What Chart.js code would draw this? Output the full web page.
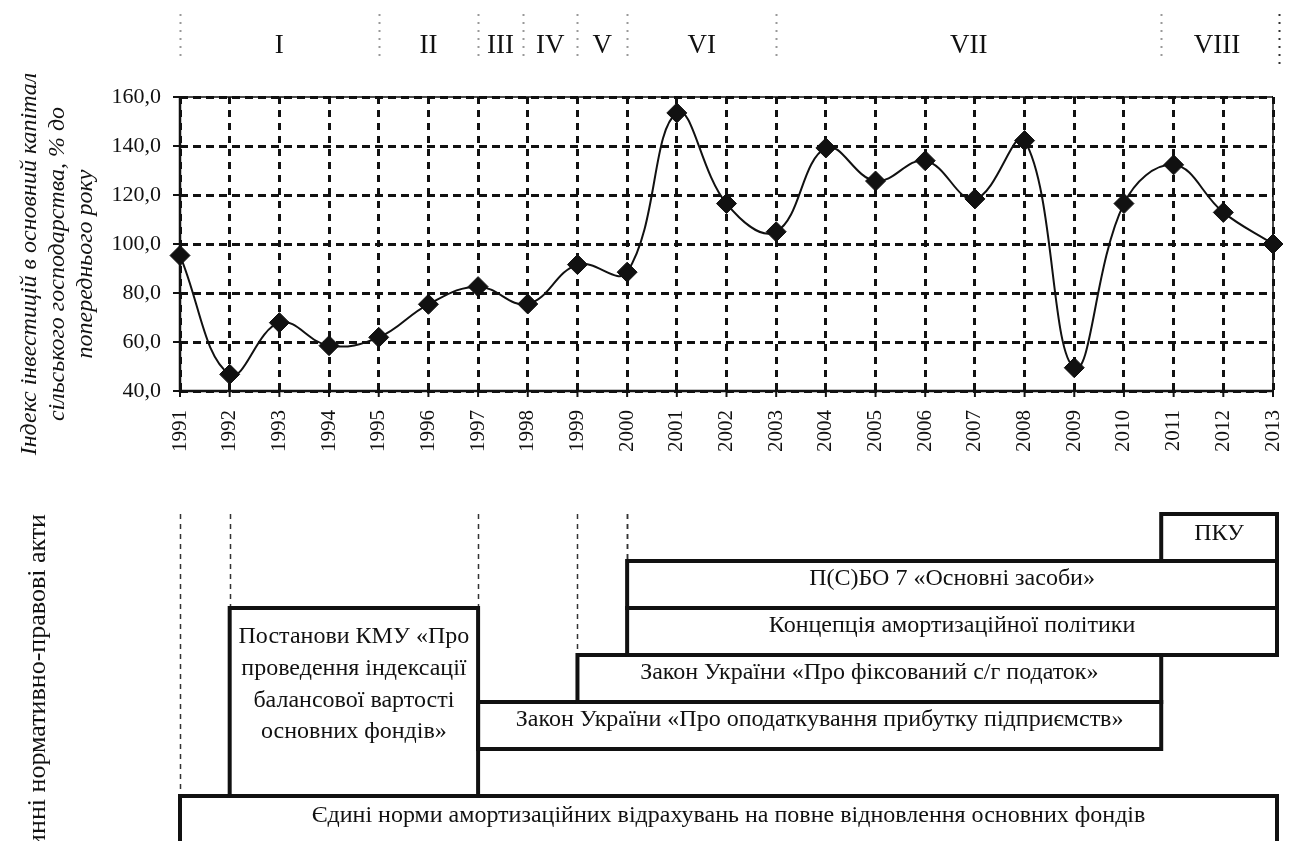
<!DOCTYPE html>
<html lang="uk">
<head>
<meta charset="utf-8">
<title>Індекс інвестицій в основний капітал сільського господарства</title>
<script src="https://cdn.jsdelivr.net/npm/chart.js@4.4.1/dist/chart.umd.min.js"></script>
<style>
  html, body { margin: 0; padding: 0; background: #fff; }
  #wrap { width: 1289px; height: 841px; }
</style>
</head>
<body>
<div id="wrap"><canvas id="chart" width="1289" height="841"></canvas></div>
<script>
// Дані з графіка
const years = ['1991','1992','1993','1994','1995','1996','1997','1998','1999','2000','2001','2002',
               '2003','2004','2005','2006','2007','2008','2009','2010','2011','2012','2013'];
const investIndex = [95.3, 46.8, 67.9, 58.5, 61.9, 75.4, 82.6, 75.5, 91.6, 88.5, 153.5, 116.5,
                     105.0, 139.2, 125.7, 134.0, 118.4, 142.2, 49.5, 116.5, 132.3, 112.9, 100.0];
const yMin = 40, yMax = 160, yStep = 20;

// Періоди (римські цифри) та їх межі в роках
const periodLabels = ['I', 'II', 'III', 'IV', 'V', 'VI', 'VII', 'VIII'];
const periodBounds = [1991, 1995, 1997, 1997.9, 1999, 2000, 2003, 2010.75, 2013];

// Нормативно-правові акти: текст, початок, кінець, рівень, кількість рівнів
const actTexts = [
    'Єдині норми амортизаційних відрахувань на повне відновлення основних фондів',
    'Постанови КМУ «Про\nпроведення індексації\nбалансової вартості\nосновних фондів»',
    'Закон України «Про оподаткування прибутку підприємств»',
    'Закон України «Про фіксований с/г податок»',
    'Концепція амортизаційної політики',
    'П(С)БО 7 «Основні засоби»',
    'ПКУ'
];
const actFrom  = [1991, 1992, 1997, 1999, 2000, 2000, 2010.75];
const actTo    = [2013, 1997, 2010.75, 2010.75, 2013, 2013, 2013];
const actLevel = [0, 1, 2, 3, 4, 5, 6];
const actSpan  = [1, 4, 1, 1, 1, 1, 1];

const yTitleLines = ['Індекс інвестицій в основний капітал', 'сільського господарства, % до', 'попереднього року'];
const actsTitle = 'Чинні нормативно-правові акти';

const SERIF = '"Liberation Serif", "Times New Roman", serif';

function xAt(chart, year) {
    return chart.scales.x.getPixelForValue(year - Number(years[0]));
}

// осі та риски
const axesPlugin = {
    id: 'axes',
    beforeDatasetsDraw(chart) {
        const ctx = chart.ctx;
        const a = chart.chartArea;
        ctx.save();
        ctx.strokeStyle = '#111';
        ctx.setLineDash([]);
        ctx.lineWidth = 1.5;
        ctx.beginPath();
        ctx.moveTo(a.left, a.top); ctx.lineTo(a.right, a.top);
        ctx.moveTo(a.right, a.top); ctx.lineTo(a.right, a.bottom);
        ctx.stroke();
        ctx.lineWidth = 2.5;
        ctx.beginPath();
        ctx.moveTo(a.left, a.top - 1); ctx.lineTo(a.left, a.bottom);
        ctx.lineTo(a.right, a.bottom);
        ctx.stroke();
        ctx.lineWidth = 2;
        ctx.beginPath();
        years.forEach((y, i) => {
            const px = chart.scales.x.getPixelForValue(i);
            ctx.moveTo(px, a.bottom - 5); ctx.lineTo(px, a.bottom + 6);
        });
        for (let v = yMin; v <= yMax; v += yStep) {
            const py = chart.scales.y.getPixelForValue(v);
            ctx.moveTo(a.left - 7, py); ctx.lineTo(a.left, py);
        }
        ctx.stroke();
        ctx.restore();
    }
};

// періоди, підписи осі, блоки актів
const extrasPlugin = {
    id: 'extras',
    afterDraw(chart) {
        const ctx = chart.ctx;
        ctx.save();

        // межі періодів
        periodBounds.forEach((b, i) => {
            const last = i === periodBounds.length - 1;
            const px = Math.round(xAt(chart, b)) + (last ? 6.5 : 0.5);
            ctx.strokeStyle = last ? '#333' : '#999';
            ctx.lineWidth = 2;
            ctx.setLineDash([2, 6]);
            ctx.beginPath();
            ctx.moveTo(px, 14);
            ctx.lineTo(px, last ? 66 : 56);
            ctx.stroke();
        });
        ctx.setLineDash([]);
        ctx.fillStyle = '#111';
        ctx.font = '27px ' + SERIF;
        ctx.textAlign = 'center';
        ctx.textBaseline = 'middle';
        periodLabels.forEach((lab, i) => {
            const cx = (xAt(chart, periodBounds[i]) + xAt(chart, periodBounds[i + 1])) / 2;
            ctx.fillText(lab, cx, 46);
        });

        // назва осі Y
        ctx.font = 'italic 24px ' + SERIF;
        yTitleLines.forEach((line, i) => {
            ctx.save();
            ctx.translate(30 + i * 28, 264);
            ctx.rotate(-Math.PI / 2);
            ctx.fillText(line, 0, 0);
            ctx.restore();
        });

        // назва блоку актів (обрізана знизу)
        ctx.font = '26px ' + SERIF;
        ctx.save();
        ctx.translate(38, 514);
        ctx.rotate(-Math.PI / 2);
        ctx.textAlign = 'right';
        ctx.fillText(actsTitle, 0, 0);
        ctx.restore();

        // рівні блоків
        const base = 796, rowH = 47, topY = base - 6 * rowH;
        const boxTop = i => base - (actLevel[i] + actSpan[i] - 1) * rowH;
        const boxBottom = i => base - (actLevel[i] - 1) * rowH;

        // пунктирні напрямні
        ctx.strokeStyle = '#333';
        ctx.lineWidth = 1.5;
        ctx.setLineDash([5, 5]);
        actFrom.forEach((f, i) => {
            const t = boxTop(i);
            if (t <= topY) return;
            const px = Math.round(xAt(chart, f)) + 0.5;
            ctx.beginPath();
            ctx.moveTo(px, topY);
            ctx.lineTo(px, t);
            ctx.stroke();
        });
        ctx.setLineDash([]);

        // блоки
        ctx.strokeStyle = '#111';
        ctx.lineWidth = 4;
        ctx.font = '24px ' + SERIF;
        actTexts.forEach((txt, i) => {
            const x1 = xAt(chart, actFrom[i]);
            const x2 = xAt(chart, actTo[i]) + (actTo[i] === 2013 ? 4 : 0);
            const y1 = boxTop(i);
            const y2 = boxBottom(i);
            ctx.strokeRect(x1, y1, x2 - x1, y2 - y1);
            const lines = txt.split('\n');
            const cx = (x1 + x2) / 2;
            if (lines.length > 1) {
                lines.forEach((l, k) => ctx.fillText(l, cx, y1 + 29 + k * 31.7));
            } else {
                ctx.fillText(txt, cx, y1 + (i === 0 ? 20 : 18) + (i === 6 ? 2 : 0));
            }
        });

        ctx.restore();
    }
};

const ctx = document.getElementById('chart').getContext('2d');
new Chart(ctx, {
    type: 'line',
    data: {
        labels: years,
        datasets: [{
            label: 'Індекс інвестицій',
            data: investIndex,
            borderColor: '#111',
            backgroundColor: '#111',
            borderWidth: 2,
            tension: 0.4,
            pointStyle: 'rectRot',
            pointRadius: 10,
            pointBackgroundColor: '#111',
            pointBorderColor: '#111',
            pointBorderWidth: 1,
            clip: false
        }]
    },
    options: {
        responsive: false,
        animation: false,
        events: [],
        layout: { padding: { left: 0, top: 97, right: 16, bottom: 380 } },
        plugins: {
            legend: { display: false },
            tooltip: { enabled: false },
            title: { display: false }
        },
        scales: {
            x: {
                offset: false,
                grid: { color: '#111', lineWidth: 3, drawTicks: false },
                border: { display: false, dash: [7, 6] },
                ticks: {
                    color: '#111',
                    font: { family: SERIF, size: 21 },
                    minRotation: 90, maxRotation: 90,
                    padding: 19,
                    autoSkip: false
                },
                afterFit(scale) {
                    scale.height = 70;
                    scale.paddingLeft = 0;
                    scale.paddingRight = 0;
                }
            },
            y: {
                min: yMin, max: yMax,
                grid: { color: '#111', lineWidth: 3, drawTicks: false },
                border: { display: false, dash: [8, 5] },
                ticks: {
                    stepSize: yStep,
                    color: '#111',
                    font: { family: SERIF, size: 22 },
                    padding: 19,
                    callback: v => v.toFixed(1).replace('.', ',')
                },
                afterFit(scale) { scale.width = 180; }
            }
        }
    },
    plugins: [axesPlugin, extrasPlugin]
});
</script>
</body>
</html>
